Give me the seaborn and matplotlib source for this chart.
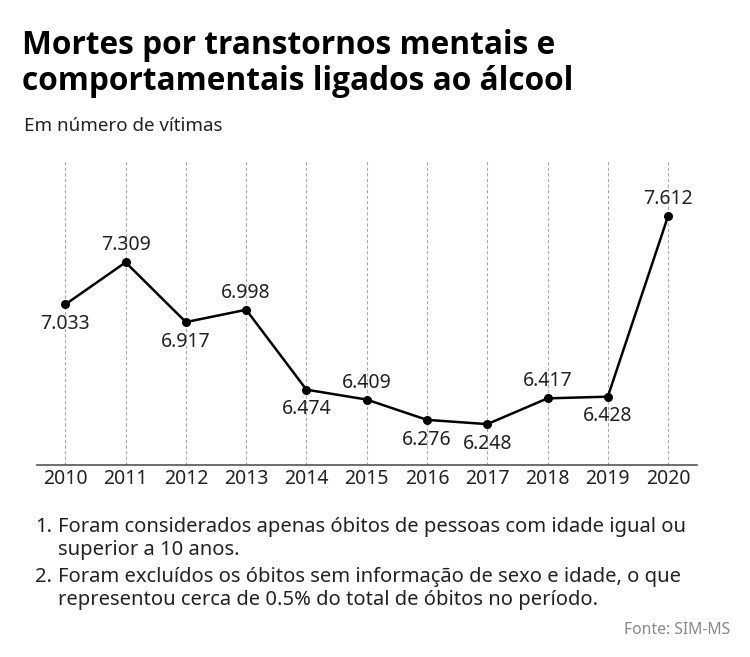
import pandas as pd
import seaborn as sns
from matplotlib import pyplot as plt

# dados
anos = [2010, 2011, 2012, 2013, 2014, 2015, 2016, 2017, 2018, 2019, 2020]
mortes = [7033, 7309, 6917, 6998, 6474, 6409, 6276, 6248, 6417, 6428, 7612]
rotulos = ['7.033', '7.309', '6.917', '6.998', '6.474', '6.409', '6.276', '6.248', '6.417', '6.428', '7.612']
posicao = ['baixo', 'cima', 'baixo', 'cima', 'baixo', 'cima', 'baixo', 'baixo', 'cima', 'baixo', 'cima']

df = pd.DataFrame({'ano': anos, 'mortes': mortes})

sns.set_theme(style='white')
plt.rcParams['font.family'] = ['Noto Sans', 'DejaVu Sans']

fig = plt.figure(figsize=(7.5, 6.57), dpi=100)
ax = fig.add_axes([37 / 750, 1 - 465 / 657, 660 / 750, 305 / 657])

sns.lineplot(x='ano', y='mortes', data=df, ax=ax, color='black', linewidth=1.8,
             marker='o', markersize=6.5, markeredgewidth=0)

for a, m, r, p in zip(anos, mortes, rotulos, posicao):
    if p == 'cima':
        ax.annotate(r, (a, m), xytext=(0, 5), textcoords='offset points',
                    ha='center', va='bottom', fontsize=14, color='#222222')
    else:
        ax.annotate(r, (a, m), xytext=(0, -7), textcoords='offset points',
                    ha='center', va='top', fontsize=14, color='#222222')

ax.set_xlim(2009.53, 2020.48)
ax.set_ylim(5980, 7980)
ax.set_xticks(anos)
ax.set_xticklabels([str(a) for a in anos], fontsize=14, color='#222222')
ax.set_yticks([])
ax.tick_params(axis='x', length=0, pad=3)
for a in anos:
    ax.axvline(a, color='#aaaaaa', linestyle=(0, (3, 2)), linewidth=0.8, zorder=0)
for s in ['top', 'right', 'left']:
    ax.spines[s].set_visible(False)
ax.spines['bottom'].set_color('#555555')
ax.spines['bottom'].set_linewidth(1.2)
ax.set_xlabel('')
ax.set_ylabel('')

titulo = ['Open Sans', 'DejaVu Sans']
fig.text(22 / 750, 1 - 45 / 657, 'Mortes por transtornos mentais e', fontsize=22.8,
         family=titulo, fontweight='bold', va='center', ha='left', color='black')
fig.text(22 / 750, 1 - 82 / 657, 'comportamentais ligados ao álcool', fontsize=22.8,
         family=titulo, fontweight='bold', va='center', ha='left', color='black')
fig.text(24 / 750, 1 - 126 / 657, 'Em número de vítimas', fontsize=13.5,
         va='center', ha='left', color='#222222')

cor = '#222222'
tam = 14.5
fig.text(35 / 750, 1 - 527 / 657, '1.', fontsize=tam, va='center', color=cor)
fig.text(58 / 750, 1 - 527 / 657, 'Foram considerados apenas óbitos de pessoas com idade igual ou',
         fontsize=tam, va='center', color=cor)
fig.text(58 / 750, 1 - 550 / 657, 'superior a 10 anos.', fontsize=tam, va='center', color=cor)
fig.text(35 / 750, 1 - 577 / 657, '2.', fontsize=tam, va='center', color=cor)
fig.text(58 / 750, 1 - 577 / 657, 'Foram excluídos os óbitos sem informação de sexo e idade, o que',
         fontsize=tam, va='center', color=cor)
fig.text(58 / 750, 1 - 600 / 657, 'representou cerca de 0.5% do total de óbitos no período.',
         fontsize=tam, va='center', color=cor)
fig.text(730 / 750, 1 - 630 / 657, 'Fonte: SIM-MS', fontsize=11.3, va='center', ha='right',
         color='#888888')

plt.savefig('out.png', dpi=100)
